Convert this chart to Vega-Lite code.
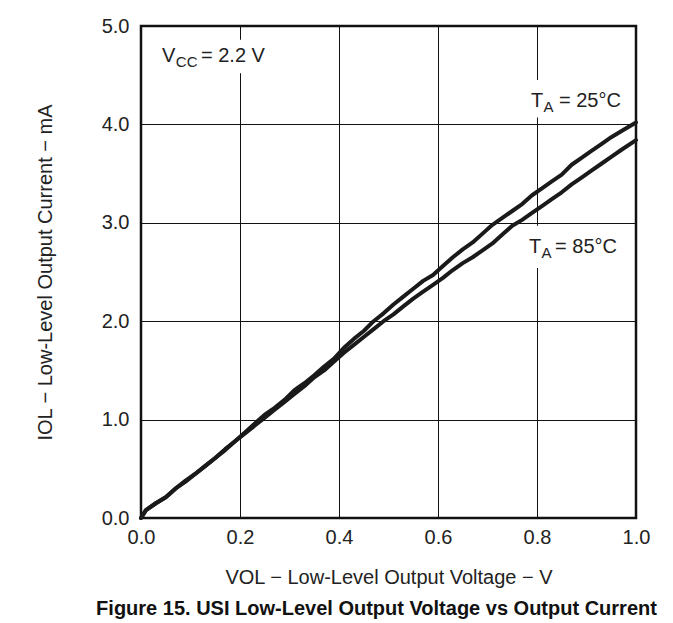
{
  "$schema": "https://vega.github.io/schema/vega-lite/v6.json",
  "width": 495,
  "height": 492,
  "autosize": "none",
  "padding": {"left": 141, "top": 26, "right": 37, "bottom": 105},
  "background": "white",
  "config": {
    "font": "Liberation Sans",
    "view": {"stroke": "#111111", "strokeWidth": 2.5},
    "axis": {
      "grid": true, "gridColor": "#111111", "gridWidth": 1, "gridOpacity": 1,
      "domain": false, "ticks": false, "labelFlush": false,
      "labelFont": "Liberation Sans", "labelFontSize": 20, "labelColor": "#222222",
      "titleFont": "Liberation Sans", "titleFontSize": 20, "titleFontWeight": "normal", "titleColor": "#222222"
    }
  },
  "title": {
    "text": "Figure 15. USI Low-Level Output Voltage vs Output Current",
    "orient": "bottom", "anchor": "middle", "font": "Liberation Sans",
    "fontSize": 20, "fontWeight": "bold", "color": "#111111", "offset": 12, "dx": -12
  },
  "datasets": {
    "curves": [
      {"v": 0.0, "i": 0.0, "t": "25"}, {"v": 0.01, "i": 0.08, "t": "25"}, {"v": 0.03, "i": 0.15, "t": "25"},
      {"v": 0.05, "i": 0.21, "t": "25"}, {"v": 0.07, "i": 0.30, "t": "25"}, {"v": 0.09, "i": 0.38, "t": "25"},
      {"v": 0.11, "i": 0.45, "t": "25"}, {"v": 0.13, "i": 0.53, "t": "25"}, {"v": 0.15, "i": 0.61, "t": "25"},
      {"v": 0.17, "i": 0.70, "t": "25"}, {"v": 0.19, "i": 0.78, "t": "25"}, {"v": 0.21, "i": 0.87, "t": "25"},
      {"v": 0.23, "i": 0.96, "t": "25"}, {"v": 0.25, "i": 1.05, "t": "25"}, {"v": 0.27, "i": 1.12, "t": "25"},
      {"v": 0.29, "i": 1.20, "t": "25"}, {"v": 0.31, "i": 1.30, "t": "25"}, {"v": 0.33, "i": 1.37, "t": "25"},
      {"v": 0.35, "i": 1.45, "t": "25"}, {"v": 0.37, "i": 1.54, "t": "25"}, {"v": 0.39, "i": 1.62, "t": "25"},
      {"v": 0.41, "i": 1.73, "t": "25"}, {"v": 0.43, "i": 1.82, "t": "25"}, {"v": 0.45, "i": 1.90, "t": "25"},
      {"v": 0.47, "i": 2.00, "t": "25"}, {"v": 0.49, "i": 2.08, "t": "25"}, {"v": 0.51, "i": 2.17, "t": "25"},
      {"v": 0.53, "i": 2.25, "t": "25"}, {"v": 0.55, "i": 2.33, "t": "25"}, {"v": 0.57, "i": 2.41, "t": "25"},
      {"v": 0.59, "i": 2.47, "t": "25"}, {"v": 0.61, "i": 2.56, "t": "25"}, {"v": 0.63, "i": 2.65, "t": "25"},
      {"v": 0.65, "i": 2.73, "t": "25"}, {"v": 0.67, "i": 2.80, "t": "25"}, {"v": 0.69, "i": 2.89, "t": "25"},
      {"v": 0.71, "i": 2.98, "t": "25"}, {"v": 0.73, "i": 3.05, "t": "25"}, {"v": 0.75, "i": 3.12, "t": "25"},
      {"v": 0.77, "i": 3.19, "t": "25"}, {"v": 0.79, "i": 3.28, "t": "25"}, {"v": 0.81, "i": 3.35, "t": "25"},
      {"v": 0.83, "i": 3.42, "t": "25"}, {"v": 0.85, "i": 3.49, "t": "25"}, {"v": 0.87, "i": 3.59, "t": "25"},
      {"v": 0.89, "i": 3.66, "t": "25"}, {"v": 0.91, "i": 3.73, "t": "25"}, {"v": 0.93, "i": 3.80, "t": "25"},
      {"v": 0.95, "i": 3.87, "t": "25"}, {"v": 0.97, "i": 3.93, "t": "25"}, {"v": 1.0, "i": 4.02, "t": "25"},
      {"v": 0.0, "i": 0.0, "t": "85"}, {"v": 0.01, "i": 0.08, "t": "85"}, {"v": 0.03, "i": 0.15, "t": "85"},
      {"v": 0.05, "i": 0.21, "t": "85"}, {"v": 0.07, "i": 0.30, "t": "85"}, {"v": 0.09, "i": 0.37, "t": "85"},
      {"v": 0.11, "i": 0.45, "t": "85"}, {"v": 0.13, "i": 0.53, "t": "85"}, {"v": 0.15, "i": 0.61, "t": "85"},
      {"v": 0.17, "i": 0.69, "t": "85"}, {"v": 0.19, "i": 0.78, "t": "85"}, {"v": 0.21, "i": 0.86, "t": "85"},
      {"v": 0.23, "i": 0.94, "t": "85"}, {"v": 0.25, "i": 1.02, "t": "85"}, {"v": 0.27, "i": 1.10, "t": "85"},
      {"v": 0.29, "i": 1.18, "t": "85"}, {"v": 0.31, "i": 1.26, "t": "85"}, {"v": 0.33, "i": 1.34, "t": "85"},
      {"v": 0.35, "i": 1.43, "t": "85"}, {"v": 0.37, "i": 1.50, "t": "85"}, {"v": 0.39, "i": 1.59, "t": "85"},
      {"v": 0.41, "i": 1.68, "t": "85"}, {"v": 0.43, "i": 1.76, "t": "85"}, {"v": 0.45, "i": 1.84, "t": "85"},
      {"v": 0.47, "i": 1.92, "t": "85"}, {"v": 0.49, "i": 2.00, "t": "85"}, {"v": 0.51, "i": 2.07, "t": "85"},
      {"v": 0.53, "i": 2.15, "t": "85"}, {"v": 0.55, "i": 2.23, "t": "85"}, {"v": 0.57, "i": 2.30, "t": "85"},
      {"v": 0.59, "i": 2.37, "t": "85"}, {"v": 0.61, "i": 2.44, "t": "85"}, {"v": 0.63, "i": 2.52, "t": "85"},
      {"v": 0.65, "i": 2.59, "t": "85"}, {"v": 0.67, "i": 2.65, "t": "85"}, {"v": 0.69, "i": 2.72, "t": "85"},
      {"v": 0.71, "i": 2.79, "t": "85"}, {"v": 0.73, "i": 2.88, "t": "85"}, {"v": 0.75, "i": 2.97, "t": "85"},
      {"v": 0.77, "i": 3.03, "t": "85"}, {"v": 0.79, "i": 3.10, "t": "85"}, {"v": 0.81, "i": 3.17, "t": "85"},
      {"v": 0.83, "i": 3.24, "t": "85"}, {"v": 0.85, "i": 3.31, "t": "85"}, {"v": 0.87, "i": 3.39, "t": "85"},
      {"v": 0.89, "i": 3.46, "t": "85"}, {"v": 0.91, "i": 3.53, "t": "85"}, {"v": 0.93, "i": 3.60, "t": "85"},
      {"v": 0.95, "i": 3.67, "t": "85"}, {"v": 0.97, "i": 3.74, "t": "85"}, {"v": 1.0, "i": 3.84, "t": "85"}
    ],
    "boxes": [
      {"x": 0.04, "x2": 0.29, "y": 4.52, "y2": 4.86},
      {"x": 0.77, "x2": 0.99, "y": 4.07, "y2": 4.45},
      {"x": 0.77, "x2": 0.99, "y": 2.54, "y2": 2.97}
    ],
    "mainText": [
      {"label": "V", "x": 0.0424, "y": 4.634},
      {"label": "= 2.2 V", "x": 0.1212, "y": 4.634},
      {"label": "T", "x": 0.7879, "y": 4.177},
      {"label": "= 25°C", "x": 0.8444, "y": 4.177},
      {"label": "T", "x": 0.7838, "y": 2.693},
      {"label": "= 85°C", "x": 0.8364, "y": 2.693}
    ],
    "subText": [
      {"label": "CC", "x": 0.0703, "y": 4.634},
      {"label": "A", "x": 0.8131, "y": 4.177},
      {"label": "A", "x": 0.8091, "y": 2.693}
    ]
  },
  "layer": [
    {
      "data": {"name": "boxes"},
      "mark": {"type": "rect", "fill": "white", "stroke": null},
      "encoding": {
        "x": {"field": "x", "type": "quantitative", "scale": {"domain": [0, 1]},
              "axis": {"title": "VOL − Low-Level Output Voltage − V", "values": [0, 0.2, 0.4, 0.6, 0.8, 1.0], "format": ".1f", "labelPadding": 9, "titlePadding": 20}},
        "x2": {"field": "x2"},
        "y": {"field": "y", "type": "quantitative", "scale": {"domain": [0, 5]},
              "axis": {"title": "IOL − Low-Level Output Current − mA", "values": [0, 1, 2, 3, 4, 5], "format": ".1f", "labelPadding": 12, "titlePadding": 46}},
        "y2": {"field": "y2"}
      }
    },
    {
      "data": {"name": "curves"},
      "mark": {"type": "line", "stroke": "#1a1a1a", "strokeWidth": 4, "strokeJoin": "round", "strokeCap": "round"},
      "encoding": {
        "x": {"field": "v", "type": "quantitative"},
        "y": {"field": "i", "type": "quantitative"},
        "detail": {"field": "t", "type": "nominal"}
      }
    },
    {
      "data": {"name": "mainText"},
      "mark": {"type": "text", "align": "left", "baseline": "alphabetic", "fontSize": 20, "font": "Liberation Sans", "color": "#222222"},
      "encoding": {
        "x": {"field": "x", "type": "quantitative"},
        "y": {"field": "y", "type": "quantitative"},
        "text": {"field": "label"}
      }
    },
    {
      "data": {"name": "subText"},
      "mark": {"type": "text", "align": "left", "baseline": "alphabetic", "fontSize": 15, "dy": 5, "font": "Liberation Sans", "color": "#222222"},
      "encoding": {
        "x": {"field": "x", "type": "quantitative"},
        "y": {"field": "y", "type": "quantitative"},
        "text": {"field": "label"}
      }
    }
  ]
}
